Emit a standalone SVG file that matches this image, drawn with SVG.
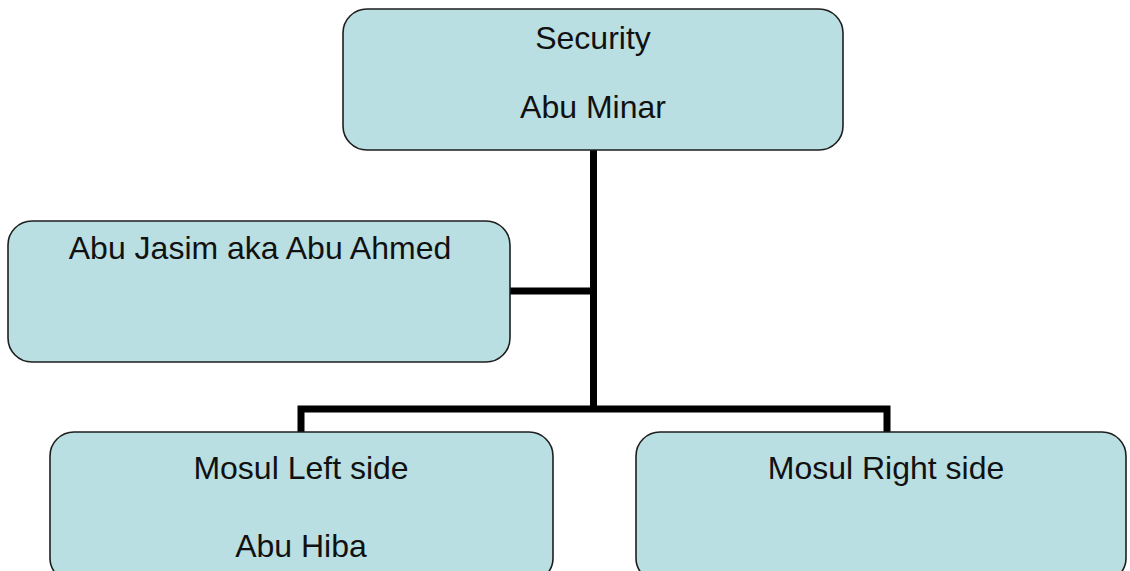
<svg xmlns="http://www.w3.org/2000/svg" width="1130" height="571" viewBox="0 0 1130 571">
<style>
.box{fill:#b9dfe2;stroke:#1e1e1e;stroke-width:1.6}
.t{font-family:"Liberation Sans",Arial,sans-serif;font-size:32px;fill:#111;text-anchor:middle}
.c{fill:none;stroke:#000;stroke-width:7;stroke-linejoin:miter}
</style>
<rect width="1130" height="571" fill="#fff"/>
<g id="connectors">
<path class="c" d="M593.5 150 V409"/>
<path class="c" d="M510 291 H593.5"/>
<path class="c" d="M301 432 V409 H887 V432"/>
</g>
<g id="security">
<rect class="box" x="343" y="9" width="500" height="141" rx="24"/>
<text class="t" x="593" y="49">Security</text>
<text class="t" x="593" y="118">Abu Minar</text>
</g>
<g id="abu-jasim">
<rect class="box" x="8" y="221" width="502" height="141" rx="24"/>
<text class="t" x="260" y="259">Abu Jasim aka Abu Ahmed</text>
</g>
<g id="mosul-left">
<rect class="box" x="50" y="432" width="503" height="150" rx="24"/>
<text class="t" x="301" y="479">Mosul Left side</text>
<text class="t" x="301" y="557">Abu Hiba</text>
</g>
<g id="mosul-right">
<rect class="box" x="636" y="432" width="490" height="150" rx="24"/>
<text class="t" x="886" y="479">Mosul Right side</text>
</g>
</svg>
